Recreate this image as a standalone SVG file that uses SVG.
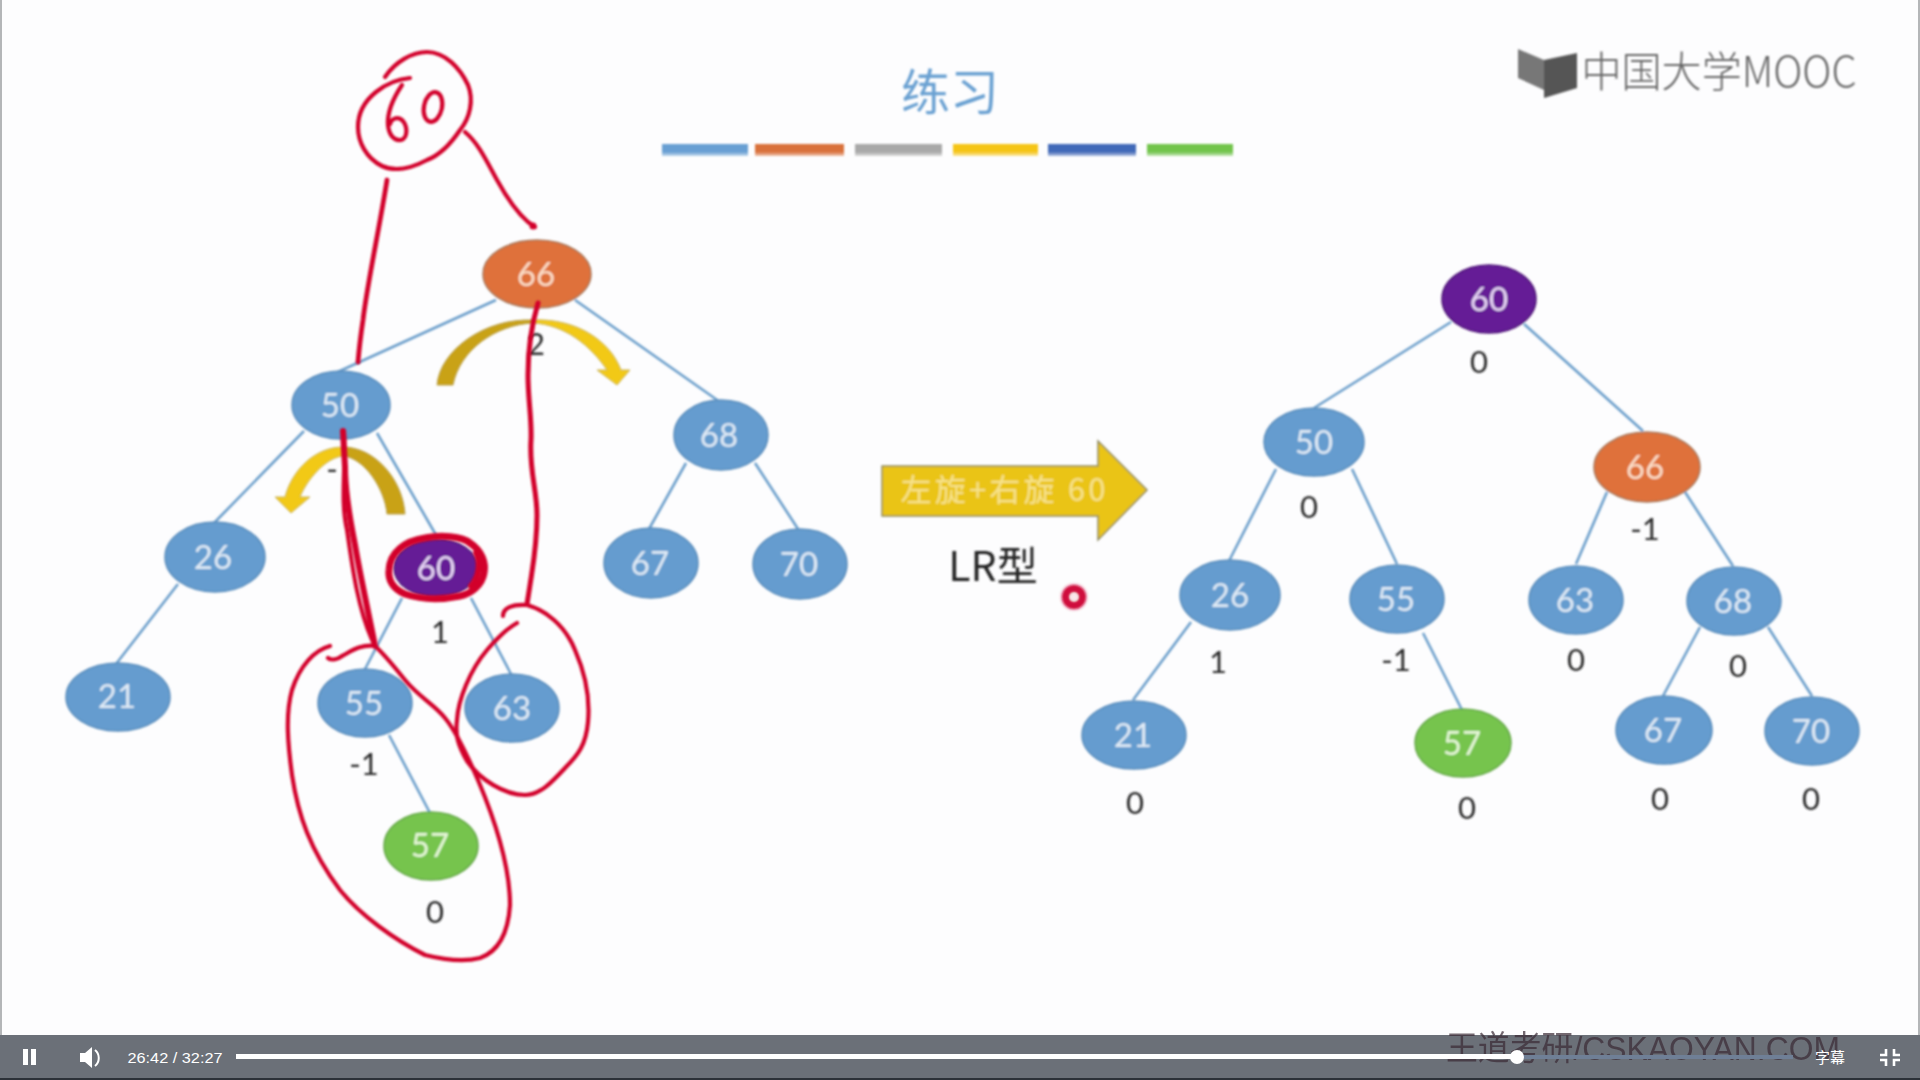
<svg xmlns="http://www.w3.org/2000/svg" width="1920" height="1080" viewBox="0 0 1920 1080">
<style>
text{font-family:"Lato","Open Sans","Noto Sans CJK SC",sans-serif;text-anchor:middle}
.n{fill:#659ccf;stroke:#5a8dbc;stroke-width:1.5}
.o{fill:#df713a;stroke:#a8785a;stroke-width:1.5}
.p{fill:#651a96;stroke:#4f1a78;stroke-width:1.5}
.g{fill:#76c44e;stroke:#65a848;stroke-width:1.5}
.t{font-size:33px;fill:#dfeaf5}
.l{font-size:31px;fill:#2b2b2b}
.e{stroke:#6c9fcb;stroke-width:2.6;fill:none}
.r{fill:none;stroke:#d2002c;stroke-width:4.2;stroke-linecap:round;stroke-linejoin:round}
.dk{fill:#c9a215;stroke:#b8a04a;stroke-width:1}
.yl{fill:#f2c916;stroke:#c8b45a;stroke-width:1}
.b{fill:url(#sh)}
</style>
<defs>
<filter id="soft" x="-2%" y="-2%" width="104%" height="104%"><feGaussianBlur stdDeviation="0.8"/></filter>
<linearGradient id="sh" x1="0" y1="0" x2="0" y2="1"><stop offset="0.65" stop-color="#fff" stop-opacity="0"/><stop offset="1" stop-color="#fff" stop-opacity="0.6"/></linearGradient>
</defs>
<rect width="1920" height="1080" fill="#fdfdfe"/>
<rect x="0" y="0" width="2" height="1036" fill="#b4b6b8"/>
<rect x="1918" y="0" width="2" height="1036" fill="#b4b6b8"/>
<g filter="url(#soft)">
<g id="title">
<text x="950" y="110" font-size="49" fill="#6ba1d2" style="font-family:'Noto Sans CJK SC',sans-serif">练习</text>
<rect x="662" y="144" width="86" height="12" fill="#679fd3"/><rect class="b" x="662" y="144" width="86" height="12"/>
<rect x="755" y="144" width="89" height="12" fill="#d9713a"/><rect class="b" x="755" y="144" width="89" height="12"/>
<rect x="855" y="144" width="87" height="12" fill="#a8a8a8"/><rect class="b" x="855" y="144" width="87" height="12"/>
<rect x="953" y="144" width="85" height="12" fill="#f5c518"/><rect class="b" x="953" y="144" width="85" height="12"/>
<rect x="1048" y="144" width="88" height="12" fill="#4169b8"/><rect class="b" x="1048" y="144" width="88" height="12"/>
<rect x="1147" y="144" width="86" height="12" fill="#72c44c"/><rect class="b" x="1147" y="144" width="86" height="12"/>
</g>
<g id="logo">
<path d="M1518 49 L1544 60 L1544 90 L1518 78 Z" fill="#777"/>
<path d="M1544 60 L1577 53 L1577 88 L1544 98 Z" fill="#555"/>
<text x="1719" y="87" font-size="42" fill="#666" textLength="275" lengthAdjust="spacingAndGlyphs" style="font-family:'Noto Sans CJK SC',sans-serif;font-weight:300">中国大学MOOC</text>
</g>
<g id="connectors">
<path class="e" d="M496 300 L320 380 M575 300 L720 402 M304 431 L214 523 M377 433 L436 535 M178 584 L116 664 M402 598 L364 671 M471 598 L512 676 M389 735 L430 813 M686 463 L649 529 M755 463 L798 529"/>
<path class="e" d="M1451 322 L1314 408 M1524 324 L1643 431 M1276 469 L1229 561 M1352 469 L1397 564 M1191 622 L1133 700 M1423 633 L1462 710 M1607 492 L1576 564 M1685 492 L1733 566 M1700 627 L1663 696 M1768 627 L1812 696"/>
</g>
<g id="rot-big">
<path class="dk" d="M437 385 C440 350 485 318 533 320 L533 323 C495 325 460 350 453 385 Z"/>
<path class="yl" d="M533 320 C575 318 610 340 621 370 L630 370 L617 385 L597 370 L607 370 C590 345 565 325 533 323 Z"/>
</g>
<g id="rot-small">
<path class="dk" d="M343 447 C375 447 403 480 405 514 L387 514 C385 490 365 458 343 456 Z"/>
<path class="yl" d="M343 447 C315 447 292 470 285 497 L275 497 L291 513 L310 497 L300 497 C307 480 325 458 343 456 Z"/>
</g>
<g id="L66"><ellipse class="o" cx="537" cy="274" rx="54" ry="34"/><text class="t" x="536" y="286" style="fill:#fbdcc6">66</text><text class="l" x="536" y="355">2</text></g>
<g id="L50"><ellipse class="n" cx="341" cy="405" rx="49" ry="34"/><text class="t" x="340" y="417">50</text><text class="l" x="332" y="480">-</text></g>
<g id="L68"><ellipse class="n" cx="721" cy="435" rx="47" ry="35"/><text class="t" x="719" y="447">68</text></g>
<g id="L26"><ellipse class="n" cx="215" cy="557" rx="50" ry="35"/><text class="t" x="213" y="569">26</text></g>
<g id="L60"><ellipse class="p" cx="436" cy="568" rx="42" ry="29"/><text class="t" x="436" y="580" style="fill:#e6d6f4">60</text><text class="l" x="440" y="643">1</text></g>
<g id="L67"><ellipse class="n" cx="651" cy="563" rx="47" ry="35"/><text class="t" x="650" y="575">67</text></g>
<g id="L70"><ellipse class="n" cx="800" cy="564" rx="47" ry="35"/><text class="t" x="799" y="576">70</text></g>
<g id="L21"><ellipse class="n" cx="118" cy="697" rx="52" ry="34"/><text class="t" x="117" y="708">21</text></g>
<g id="L55"><ellipse class="n" cx="365" cy="703" rx="47" ry="34"/><text class="t" x="364" y="715">55</text><text class="l" x="364" y="775">-1</text></g>
<g id="L63"><ellipse class="n" cx="512" cy="708" rx="47" ry="34"/><text class="t" x="512" y="720">63</text></g>
<g id="L57"><ellipse class="g" cx="431" cy="846" rx="47" ry="34"/><text class="t" x="430" y="857" style="fill:#e6f7d8">57</text><text class="l" x="435" y="923">0</text></g>
<g id="R60"><ellipse class="p" cx="1489" cy="299" rx="47" ry="34"/><text class="t" x="1489" y="311" style="fill:#e6d6f4">60</text><text class="l" x="1479" y="373">0</text></g>
<g id="R50"><ellipse class="n" cx="1314" cy="442" rx="50" ry="34"/><text class="t" x="1314" y="454">50</text><text class="l" x="1309" y="518">0</text></g>
<g id="R66"><ellipse class="o" cx="1647" cy="467" rx="53" ry="35"/><text class="t" x="1645" y="479" style="fill:#fbdcc6">66</text><text class="l" x="1645" y="540">-1</text></g>
<g id="R26"><ellipse class="n" cx="1230" cy="595" rx="50" ry="35"/><text class="t" x="1230" y="607">26</text><text class="l" x="1218" y="673">1</text></g>
<g id="R55"><ellipse class="n" cx="1397" cy="599" rx="47" ry="34"/><text class="t" x="1396" y="611">55</text><text class="l" x="1396" y="671">-1</text></g>
<g id="R63"><ellipse class="n" cx="1576" cy="600" rx="47" ry="34"/><text class="t" x="1575" y="612">63</text><text class="l" x="1576" y="671">0</text></g>
<g id="R68"><ellipse class="n" cx="1734" cy="601" rx="47" ry="34"/><text class="t" x="1733" y="613">68</text><text class="l" x="1738" y="677">0</text></g>
<g id="R21"><ellipse class="n" cx="1134" cy="735" rx="52" ry="34"/><text class="t" x="1133" y="747">21</text><text class="l" x="1135" y="814">0</text></g>
<g id="R57"><ellipse class="g" cx="1463" cy="743" rx="48" ry="34"/><text class="t" x="1462" y="755" style="fill:#e6f7d8">57</text><text class="l" x="1467" y="819">0</text></g>
<g id="R67"><ellipse class="n" cx="1664" cy="730" rx="48" ry="34"/><text class="t" x="1663" y="742">67</text><text class="l" x="1660" y="810">0</text></g>
<g id="R70"><ellipse class="n" cx="1812" cy="731" rx="47" ry="34"/><text class="t" x="1811" y="743">70</text><text class="l" x="1811" y="810">0</text></g>
<g id="arrow">
<path d="M882 466 H1098 V441 L1147 490 L1098 540 V516 H882 Z" fill="#eac417" stroke="#8f8a60" stroke-width="1.5"/>
<text x="1003" y="501" font-size="31" fill="#f7e38b" textLength="205" style="font-family:'Noto Sans CJK SC',sans-serif">左旋+右旋 60</text>
<text x="993" y="581" font-size="41" fill="#222" style="font-family:'Noto Sans CJK SC',sans-serif">LR型</text>
</g>
</g>
<g id="ink" filter="url(#soft)">
<path class="r" d="M385 77 C395 62 412 52 427 52 C445 52 460 68 468 85 C474 100 470 118 460 130 C450 145 440 155 427 160 C412 168 395 172 382 166 C366 158 358 142 358 127 C358 112 366 100 376 92 C386 84 398 79 410 78"/>
<path class="r" d="M402 85 C392 100 387 112 388 125 C389 135 394 141 401 140 C408 138 408 126 402 120 C397 116 391 119 390 124"/>
<ellipse class="r" cx="433" cy="107" rx="9" ry="15" transform="rotate(12 433 107)"/>
<path class="r" d="M465 132 C478 143 485 158 497 180 C508 200 520 215 528 222 L535 227"/>
<circle cx="533" cy="226" r="3.5" fill="#d2002c"/>
<path class="r" style="stroke-width:4.8" d="M387 180 C380 225 367 285 363 320 C360 340 359 350 358 362"/>
<path class="r" style="stroke-width:5" d="M538 303 C533 320 528 345 528 375 C528 400 532 420 531 440 C529 470 537 490 537 515 C537 545 533 565 530 585 L527 604"/>
<path class="r" d="M503 616 C503 608 512 604 527 605 C545 610 565 625 575 650 C586 675 590 700 588 722 C586 745 578 755 565 768 C552 782 540 795 525 795 C505 795 480 780 467 761 C458 745 455 735 457 720 C458 700 470 670 487 650 C498 637 508 628 517 623"/>
<path class="r" style="stroke-width:6" d="M343 431 L345 467 C345 490 350 520 355 545 C360 575 368 610 375 646"/>
<path class="r" style="stroke-width:4" d="M344 431 C346 470 340 500 347 530 C352 565 358 610 373 642"/>
<path class="r" d="M330 646 C315 650 300 665 292 690 C285 715 288 745 292 775 C298 815 310 850 340 890 C360 915 395 940 425 955 C445 960 465 962 480 958 C497 952 508 935 510 905 C510 870 497 825 478 780 C465 750 455 730 445 718 C435 705 420 698 405 680 C392 664 385 655 375 646 C360 644 350 652 342 656 C338 659 332 661 328 658"/>
<path class="r" style="stroke-width:7" d="M389 570 C390 552 405 541 425 538 C440 535 462 536 470 543 C482 551 486 563 484 573 C482 586 470 594 460 596 C440 600 420 599 405 594 C393 589 388 580 389 570 Z"/>
<path class="r" style="stroke-width:6" d="M476 553 C481 563 479 577 471 586"/>
<circle cx="1074" cy="597" r="14" fill="#d00f3e" opacity="0.2"/>
<circle cx="1074" cy="597" r="8.5" fill="none" stroke="#cf0a3c" stroke-width="7"/>
<circle cx="1074" cy="597" r="3" fill="#fbe8ec"/>
</g>
<g id="player">
<rect x="0" y="1035" width="1920" height="45" fill="#6b7078"/>
<rect x="0" y="1078" width="1920" height="2" fill="#2c3138"/>
<text x="1643" y="1060" font-size="34" fill="#3a2a35" opacity="0.7" textLength="394" lengthAdjust="spacingAndGlyphs" style="font-family:'Liberation Sans','Noto Sans CJK SC',sans-serif">王道考研/CSKAOYAN.COM</text>
<rect x="236" y="1055" width="1557" height="4" fill="#6f7f96"/>
<rect x="236" y="1054" width="1281" height="5" fill="#fff"/>
<circle cx="1517" cy="1057" r="7" fill="#fff"/>
<rect x="23" y="1049" width="5" height="16" fill="#fff"/>
<rect x="31" y="1049" width="5" height="16" fill="#fff"/>
<path d="M80 1053 H85 L92 1047 V1068 L85 1062 H80 Z" fill="#fff"/>
<path d="M95 1050 C100 1054 100 1062 95 1066" fill="none" stroke="#fff" stroke-width="2"/>
<text x="175" y="1063" font-size="15" fill="#fff" textLength="95" lengthAdjust="spacingAndGlyphs" style="font-family:'Liberation Sans',sans-serif">26:42 / 32:27</text>
<text x="1830" y="1063" font-size="15" fill="#fff" style="font-family:'Noto Sans CJK SC',sans-serif">字幕</text>
<path d="M1886 1049 V1055 H1880 M1894 1049 V1055 H1900 M1886 1066 V1060 H1880 M1894 1066 V1060 H1900" fill="none" stroke="#fff" stroke-width="2.6"/>
</g>
</svg>
